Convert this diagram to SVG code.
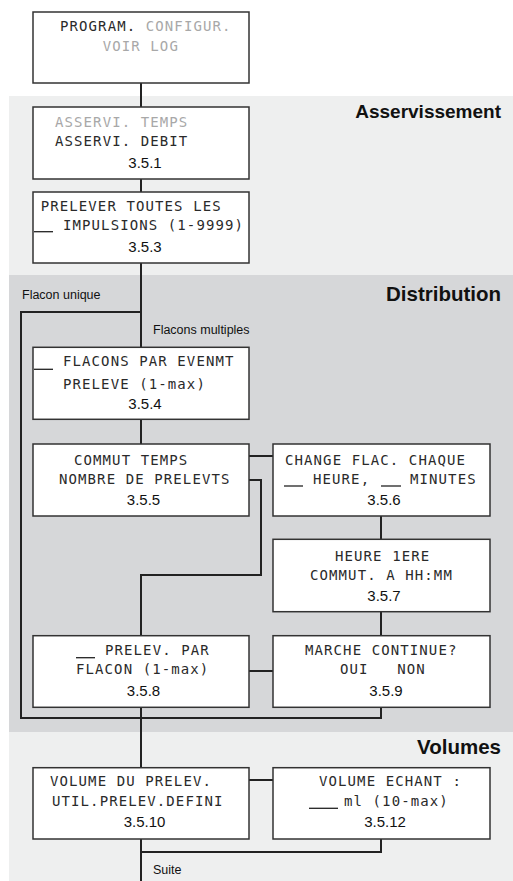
<svg xmlns="http://www.w3.org/2000/svg" width="513" height="881" viewBox="0 0 513 881">
<style>
.box{fill:#fff;stroke:#333;stroke-width:1.5}
.mono{font-family:"DejaVu Sans Mono",monospace;font-size:14px;letter-spacing:1.1px;fill:#2a2a2a}
.dim{fill:#a8a8a8}
.num{font-family:"Liberation Sans",Arial,sans-serif;font-size:15px;fill:#111;text-anchor:middle}
.title{font-family:"Liberation Sans",Arial,sans-serif;font-weight:bold;fill:#111;text-anchor:end}
.lbl{font-family:"Liberation Sans",Arial,sans-serif;font-size:12.5px;fill:#111}
.conn{fill:none;stroke:#222;stroke-width:2}
.ul{stroke:#222;stroke-width:1.3}
</style>
<rect width="513" height="881" fill="#fff"/>
<g id="bands">
<rect x="9" y="96" width="504" height="179" fill="#eeefef"/>
<rect x="9" y="275" width="504" height="457" fill="#d6d7d9"/>
<rect x="9" y="732" width="504" height="149" fill="#eeefef"/>
<text class="title" x="501" y="117.5" font-size="19">Asservissement</text>
<text class="title" x="501" y="301" font-size="20.5">Distribution</text>
<text class="title" x="501" y="753.5" font-size="20.5">Volumes</text>
</g>
<g id="connectors">
<path class="conn" d="M141 83V107M141 179V192M141 263V347M141 419V444M141 707V767.7M141 839V881"/>
<path class="conn" d="M141 312H21V718H381V707"/>
<path class="conn" d="M249 456H273M381 516V539M381 612V636M249 671H273M249 780H273"/>
<path class="conn" d="M249 480H261V575H141V636"/>
<path class="conn" d="M381 839V852H141"/>
<text class="lbl" x="22" y="298.5">Flacon unique</text>
<text class="lbl" x="153" y="334">Flacons multiples</text>
<text class="lbl" x="153" y="874">Suite</text>
</g>
<g id="n-program">
<rect class="box" x="33" y="12" width="216" height="71"/>
<text class="mono" x="60" y="31">PROGRAM. <tspan class="dim">CONFIGUR.</tspan></text>
<text class="mono dim" x="102.7" y="50.5">VOIR LOG</text>
</g>
<g id="n-3.5.1">
<rect class="box" x="33" y="107" width="216" height="72"/>
<text class="mono dim" x="55" y="127">ASSERVI. TEMPS</text>
<text class="mono" x="55" y="146">ASSERVI. DEBIT</text>
<text class="num" x="145" y="167.5">3.5.1</text>
</g>
<g id="n-3.5.3">
<rect class="box" x="33" y="192" width="216" height="71"/>
<text class="mono" x="40.7" y="210.5">PRELEVER TOUTES LES</text>
<line class="ul" x1="34" y1="231.7" x2="53" y2="231.7"/>
<text class="mono" x="63" y="229.5">IMPULSIONS (1-9999)</text>
<text class="num" x="145" y="251.5">3.5.3</text>
</g>
<g id="n-3.5.4">
<rect class="box" x="33" y="347.3" width="216" height="72"/>
<line class="ul" x1="34" y1="369.3" x2="53" y2="369.3"/>
<text class="mono" x="63" y="366">FLACONS PAR EVENMT</text>
<text class="mono" x="63" y="389">PRELEVE (1-max)</text>
<text class="num" x="145" y="408.5">3.5.4</text>
</g>
<g id="n-3.5.5">
<rect class="box" x="33" y="444" width="216" height="72"/>
<text class="mono" x="74" y="465">COMMUT TEMPS</text>
<text class="mono" x="59" y="484">NOMBRE DE PRELEVTS</text>
<text class="num" x="143.5" y="505">3.5.5</text>
</g>
<g id="n-3.5.6">
<rect class="box" x="273" y="444" width="217" height="72"/>
<text class="mono" x="285" y="465">CHANGE FLAC. CHAQUE</text>
<line class="ul" x1="284" y1="486" x2="303" y2="486"/>
<text class="mono" x="313" y="484">HEURE,</text>
<line class="ul" x1="381" y1="486" x2="401" y2="486"/>
<text class="mono" x="410" y="484">MINUTES</text>
<text class="num" x="384" y="504.5">3.5.6</text>
</g>
<g id="n-3.5.7">
<rect class="box" x="273" y="539.3" width="217" height="72.4"/>
<text class="mono" x="335" y="561">HEURE 1ERE</text>
<text class="mono" x="310" y="580">COMMUT. A HH:MM</text>
<text class="num" x="384" y="600.5">3.5.7</text>
</g>
<g id="n-3.5.8">
<rect class="box" x="33" y="635.7" width="216" height="71.6"/>
<line class="ul" x1="76" y1="657.7" x2="95" y2="657.7"/>
<text class="mono" x="105" y="655">PRELEV. PAR</text>
<text class="mono" x="76" y="674">FLACON (1-max)</text>
<text class="num" x="143.5" y="696">3.5.8</text>
</g>
<g id="n-3.5.9">
<rect class="box" x="273" y="635.7" width="217" height="71.6"/>
<text class="mono" x="305" y="655">MARCHE CONTINUE?</text>
<text class="mono" x="340" y="674" xml:space="preserve">OUI   NON</text>
<text class="num" x="386" y="696">3.5.9</text>
</g>
<g id="n-3.5.10">
<rect class="box" x="33" y="767.7" width="216" height="71.3"/>
<text class="mono" x="50" y="786">VOLUME DU PRELEV.</text>
<text class="mono" x="52" y="806">UTIL.PRELEV.DEFINI</text>
<text class="num" x="144.5" y="827">3.5.10</text>
</g>
<g id="n-3.5.12">
<rect class="box" x="273" y="767.7" width="217" height="71.3"/>
<text class="mono" x="319" y="786">VOLUME ECHANT :</text>
<line class="ul" x1="309" y1="808.3" x2="338" y2="808.3"/>
<text class="mono" x="344" y="806">ml (10-max)</text>
<text class="num" x="385" y="827">3.5.12</text>
</g>
</svg>
